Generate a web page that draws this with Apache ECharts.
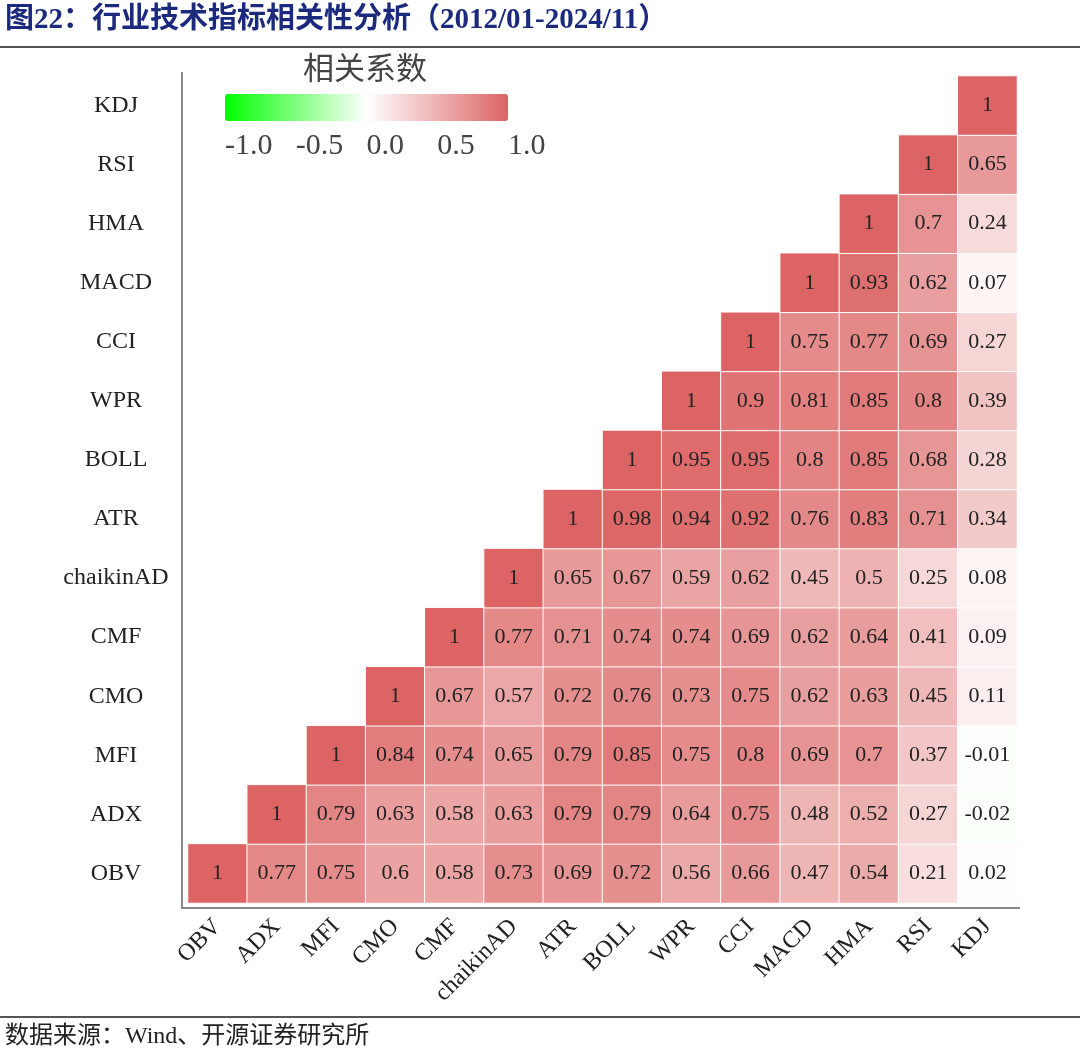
<!DOCTYPE html>
<html>
<head>
<meta charset="utf-8">
<script src="https://cdn.jsdelivr.net/npm/echarts@6/dist/echarts.min.js"></script>
<style>
html,body{margin:0;padding:0;background:#fff;}
#chart{width:1080px;height:1061px;}
</style>
</head>
<body>
<div id="chart"></div>
<script>
// Indicator categories (x left→right, y bottom→top)
const categories = ['OBV','ADX','MFI','CMO','CMF','chaikinAD','ATR','BOLL','WPR','CCI','MACD','HMA','RSI','KDJ'];

// Each row: correlations of the row indicator with columns starting at its own index
const rowOBV       = [1, 0.77, 0.75, 0.6, 0.58, 0.73, 0.69, 0.72, 0.56, 0.66, 0.47, 0.54, 0.21, 0.02];
const rowADX       = [1, 0.79, 0.63, 0.58, 0.63, 0.79, 0.79, 0.64, 0.75, 0.48, 0.52, 0.27, -0.02];
const rowMFI       = [1, 0.84, 0.74, 0.65, 0.79, 0.85, 0.75, 0.8, 0.69, 0.7, 0.37, -0.01];
const rowCMO       = [1, 0.67, 0.57, 0.72, 0.76, 0.73, 0.75, 0.62, 0.63, 0.45, 0.11];
const rowCMF       = [1, 0.77, 0.71, 0.74, 0.74, 0.69, 0.62, 0.64, 0.41, 0.09];
const rowChaikinAD = [1, 0.65, 0.67, 0.59, 0.62, 0.45, 0.5, 0.25, 0.08];
const rowATR       = [1, 0.98, 0.94, 0.92, 0.76, 0.83, 0.71, 0.34];
const rowBOLL      = [1, 0.95, 0.95, 0.8, 0.85, 0.68, 0.28];
const rowWPR       = [1, 0.9, 0.81, 0.85, 0.8, 0.39];
const rowCCI       = [1, 0.75, 0.77, 0.69, 0.27];
const rowMACD      = [1, 0.93, 0.62, 0.07];
const rowHMA       = [1, 0.7, 0.24];
const rowRSI       = [1, 0.65];
const rowKDJ       = [1];

const rows = [rowOBV,rowADX,rowMFI,rowCMO,rowCMF,rowChaikinAD,rowATR,rowBOLL,rowWPR,rowCCI,rowMACD,rowHMA,rowRSI,rowKDJ];

// Colour bar tick labels
const colorbarTicks = ['-1.0','-0.5','0.0','0.5','1.0'];

const heatData = [];
rows.forEach((r, y) => {
  r.forEach((v, k) => { heatData.push([y + k, y, v]); });
});

const serif = "'Liberation Serif', 'Noto Sans CJK SC', serif";
const chart = echarts.init(document.getElementById('chart'));

const barLeft = 225, barLen = 283, barTop = 94, barThick = 27;
const tickTexts = colorbarTicks.map((t, i) => ({
  type: 'text',
  left: barLeft + i * barLen / (colorbarTicks.length - 1),
  top: 131,
  style: { text: t, font: "30px " + serif, fill: '#444' }
}));

chart.setOption({
  backgroundColor: '#fff',
  animation: false,
  grid: { left: 188, right: 63, top: 76, bottom: 158 },
  xAxis: {
    type: 'category',
    data: categories,
    offset: 6,
    axisLine: { show: false },
    axisTick: { show: false },
    splitLine: { show: false },
    axisLabel: { rotate: 45, margin: 14, fontFamily: serif, fontSize: 24, color: '#222' }
  },
  yAxis: {
    type: 'category',
    data: categories,
    offset: 6,
    axisLine: { show: false },
    axisTick: { show: false },
    splitLine: { show: false },
    axisLabel: { align: 'center', margin: 66, fontFamily: serif, fontSize: 24, color: '#222' }
  },
  visualMap: {
    type: 'continuous',
    min: -1, max: 1,
    orient: 'horizontal',
    left: barLeft, top: barTop,
    padding: 0,
    itemWidth: barThick,
    itemHeight: barLen,
    calculable: false,
    realtime: false,
    showLabel: false,
    text: ['', ''],
    inRange: { color: ['#00ff00', '#ffffff', '#dc6464'] }
  },
  series: [{
    type: 'heatmap',
    data: heatData,
    itemStyle: { borderColor: '#fff', borderWidth: 1 },
    label: {
      show: true,
      fontFamily: serif,
      fontSize: 22,
      color: '#222',
      formatter: p => String(p.value[2])
    },
    emphasis: { disabled: true }
  }],
  graphic: [
    { type: 'text', left: 5, top: 6,
      style: { text: '图22：行业技术指标相关性分析（2012/01-2024/11）', font: "bold 29px " + serif, fill: '#1c2a7e' } },
    { type: 'line', shape: { x1: 0, y1: 47, x2: 1080, y2: 47 }, style: { stroke: '#555', lineWidth: 2 } },
    { type: 'line', shape: { x1: 182, y1: 72, x2: 182, y2: 909 }, style: { stroke: '#888', lineWidth: 2 } },
    { type: 'line', shape: { x1: 181, y1: 908, x2: 1020, y2: 908 }, style: { stroke: '#888', lineWidth: 2 } },
    { type: 'text', left: 303, top: 52,
      style: { text: '相关系数', font: "31px 'Noto Sans CJK SC', sans-serif", fill: '#444' } },
    ...tickTexts,
    { type: 'line', shape: { x1: 0, y1: 1017, x2: 1080, y2: 1017 }, style: { stroke: '#555', lineWidth: 2 } },
    { type: 'text', left: 5, top: 1025,
      style: { text: '数据来源：Wind、开源证券研究所', font: "24px " + serif, fill: '#222' } }
  ]
});
</script>
</body>
</html>
